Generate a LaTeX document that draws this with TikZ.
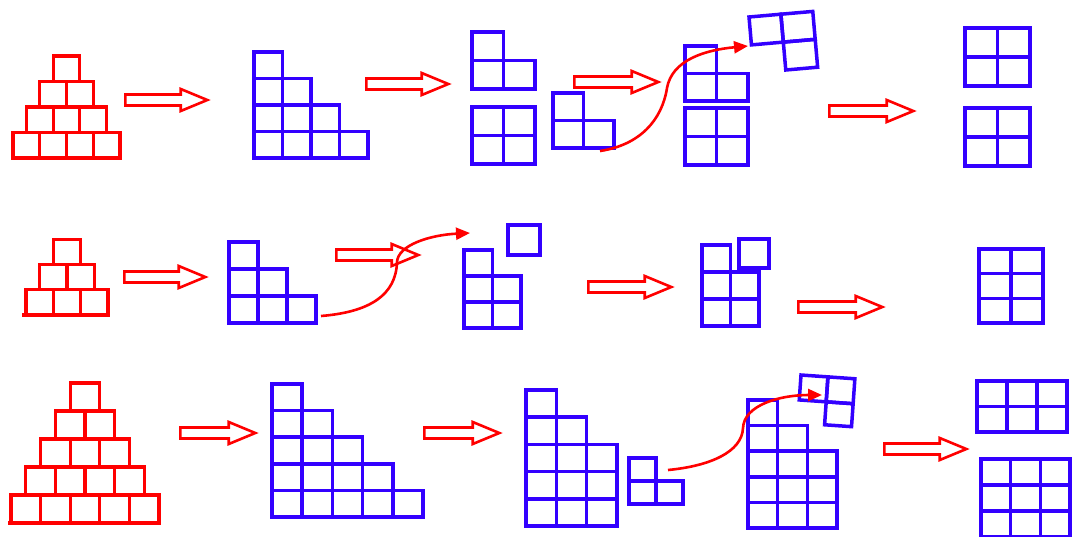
\documentclass[tikz,border=0pt]{standalone}
\usetikzlibrary{shapes.arrows,arrows.meta}
\definecolor{myblue}{RGB}{51,0,255}
\definecolor{myred}{RGB}{255,0,0}
\tikzset{
  rp/.style={draw=myred, line width=3.2pt},
  bp/.style={draw=myblue, line width=3.5pt},
  harrow/.style={single arrow, draw=myred, fill=white, line width=2.6pt,
    text height=0pt, text depth=0pt, inner xsep=0pt, inner ysep=4.2pt,
    single arrow head extend=5.5pt, single arrow tip angle=45,
    minimum height=#1, anchor=tail},
  carrow/.style={draw=myred, line width=2.6pt, -{Triangle[length=14pt,width=12pt]}},
}
\newcommand\pyramid[6]{%
  \pgfmathtruncatemacro\pyrN{#6-1}%
  \foreach \ri in {0,...,\pyrN}{%
    \pgfmathtruncatemacro\pyrM{#6-\ri-1}%
    \foreach \ci in {0,...,\pyrM}{%
      \draw[#1] ({#2+(\ri/2+\ci)*#4},{#3-\ri*#5}) rectangle ++(#4,-#5);
    }%
  }%
}
\newcommand\stair[6]{%
  \foreach \hh [count=\ci from 0] in {#6}{%
    \foreach \kk in {1,...,\hh}{%
      \draw[#1] ({#2+\ci*#4},{#3-(\kk-1)*#5}) rectangle ++(#4,-#5);
    }%
  }%
}
\begin{document}
\begin{tikzpicture}[x=1pt,y=-1pt]
\useasboundingbox (0,0) rectangle (1075,536);
\clip (0,0) rectangle (1075,536);
\fill[white] (0,0) rectangle (1075,536);

% ---------- Row 1 ----------
\pyramid{rp}{13}{158}{26.75}{25.5}{4}
\node[harrow=82pt] (a1) at (124,100) {};
\stair{bp}{254}{158}{28.5}{26.5}{4,3,2,1}
\node[harrow=82pt] (a2) at (365,84) {};
\stair{bp}{472}{89}{31.5}{28.5}{2,1}
\stair{bp}{472}{164}{31.5}{28.5}{2,2}
\node[harrow=84pt] (a3) at (573,82) {};
\stair{bp}{553}{148}{30.5}{27.5}{2,1}
\stair{bp}{685}{101}{31.5}{27.5}{2,1}
\stair{bp}{685}{165}{31.5}{28.5}{2,2}
\begin{scope}[shift={(749,17)}, rotate=5]
  \draw[bp] (0,0) rectangle (32,28);
  \draw[bp] (32,0) rectangle (64,28);
  \draw[bp] (32,28) rectangle (64,56);
\end{scope}
\node[harrow=84pt] (a4) at (828,111) {};
\stair{bp}{965}{86}{32.5}{29}{2,2}
\stair{bp}{965}{166}{32.5}{29}{2,2}
\coordinate (r1s) at (600,151);
\coordinate (r1e) at (748,46);
\draw[carrow] (r1s) .. controls (640,145) and (662,120) .. (667,88)
  .. controls (672,60) and (705,50) .. (r1e);

% ---------- Row 2 ----------
\pyramid{rp}{26}{315}{27.3}{25.3}{3}
\draw[rp] (22,315) -- (26,315);
\node[harrow=81pt] (b1) at (123,277) {};
\stair{bp}{229}{323}{29}{27}{3,2,1}
\node[harrow=82pt] (b2) at (335,255) {};
\stair{bp}{464}{328}{28.5}{26}{3,2}
\draw[bp] (508,225) rectangle (540,255);
\node[harrow=83pt] (b3) at (587,287) {};
\stair{bp}{702}{326}{28.5}{27}{3,2}
\draw[bp] (739,239) rectangle (769,268);
\node[harrow=84pt] (b4) at (797,307) {};
\stair{bp}{979}{323}{32}{24.7}{3,3}
\coordinate (r2s) at (321,316);
\coordinate (r2e) at (470,233);
\draw[carrow] (r2s) .. controls (370,312) and (396,295) .. (397,262)
  .. controls (398,245) and (430,235) .. (r2e);

% ---------- Row 3 ----------
\pyramid{rp}{11}{523}{29.6}{28}{5}
\draw[rp] (8,523) -- (11,523);
\node[harrow=75pt] (c1) at (179,433) {};
\stair{bp}{272}{517}{30.2}{26.6}{5,4,3,2,1}
\node[harrow=75pt] (c2) at (423,433) {};
\stair{bp}{526}{526}{30.3}{27.2}{5,4,3}
\stair{bp}{629}{504}{27}{23}{2,1}
\stair{bp}{748}{528}{29.7}{25.6}{5,4,3}
\begin{scope}[shift={(801,375)}, rotate=-4]
  \draw[bp] (0,0) rectangle (27,25);
  \draw[bp] (27,0) rectangle (54,25);
  \draw[bp] (27,25) rectangle (54,48);
\end{scope}
\node[harrow=82pt] (c3) at (883,449) {};
\stair{bp}{977}{432}{30}{25.5}{2,2,2}
\stair{bp}{981}{537}{29.7}{26}{3,3,3}
\coordinate (r3s) at (668,470);
\coordinate (r3e) at (822,395);
\draw[carrow] (r3s) .. controls (710,466) and (742,452) .. (743,428)
  .. controls (744,405) and (780,395) .. (r3e);
\end{tikzpicture}
\end{document}
